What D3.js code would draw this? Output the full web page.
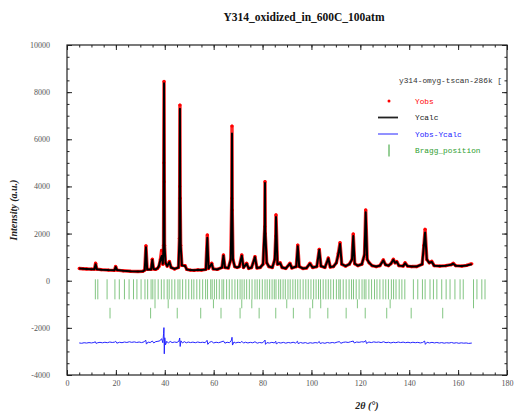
<!DOCTYPE html>
<html>
<head>
<meta charset="utf-8">
<script src="https://cdn.jsdelivr.net/npm/d3@7"></script>
<style>
  body { margin: 0; background: #fff; }
  .tick text { font-family: "Liberation Serif", serif; font-size: 8px; fill: #555; }
  .tick line { stroke: #222; }
</style>
</head>
<body>
<svg id="chart" width="514" height="414"></svg>
<script>
const title = "Y314_oxidized_in_600C_100atm";
const fileName = "y314-omyg-tscan-286k [";
const legendLabels = ["Yobs", "Ycalc", "Yobs-Ycalc", "Bragg_position"];
const xTicks = [0, 20, 40, 60, 80, 100, 120, 140, 160, 180];
const yTicks = [-4000, -2000, 0, 2000, 4000, 6000, 8000, 10000];

// profile points (2theta, observed, calculated)
const twoTheta = [
  5.0, 6.5, 8.0, 10.0, 11.2, 11.7, 12.2, 14.0, 17.0, 19.4,
  19.9, 20.5, 23.0, 26.0, 29.0, 31.0, 31.8, 32.3, 32.8, 34.4,
  34.9, 35.4, 36.2, 37.0, 37.6, 38.2, 38.7, 39.2, 39.5, 39.6,
  39.7, 39.8, 39.9, 40.3, 41.0, 41.9, 42.6, 44.0, 45.6, 46.0,
  46.1, 46.2, 46.3, 46.5, 47.0, 48.3, 49.0, 50.5, 52.0, 53.5,
  55.0, 56.8, 57.4, 57.9, 59.2, 59.8, 61.5, 63.4, 64.0, 64.6,
  66.0, 67.0, 67.4, 67.5, 67.6, 67.9, 68.6, 69.6, 70.5, 71.5,
  72.2, 73.5, 74.3, 75.5, 76.9, 77.7, 79.0, 80.2, 80.9, 81.0,
  81.1, 81.7, 82.6, 84.0, 85.0, 85.4, 85.5, 86.1, 87.2, 88.0,
  89.5, 91.2, 92.0, 93.8, 94.4, 95.0, 96.5, 98.0, 99.4, 100.5,
  102.2, 103.2, 103.9, 105.5, 106.9, 107.7, 109.0, 110.2, 111.0, 111.7,
  112.4, 114.0, 115.5, 116.6, 117.1, 117.7, 119.0, 120.6, 121.7, 122.2,
  122.8, 123.6, 124.8, 126.5, 128.0, 129.4, 130.3, 131.5, 132.5, 133.5,
  134.2, 134.9, 135.8, 137.5, 138.3, 139.3, 141.0, 143.0, 145.3, 146.0,
  146.5, 147.2, 148.2, 149.2, 150.2, 152.5, 155.0, 157.2, 158.0, 159.0,
  161.5, 163.5, 165.6
];
const yObs = [
  520, 510, 500, 490, 490, 740, 490, 470, 450, 440,
  600, 450, 420, 400, 390, 400, 450, 1480, 480, 480,
  910, 500, 480, 520, 600, 900, 1280, 700, 1500, 5000,
  8450, 4200, 1500, 750, 620, 810, 560, 500, 560, 1800,
  4000, 7450, 3500, 1500, 650, 640, 480, 450, 440, 460,
  450, 480, 1940, 520, 740, 500, 480, 560, 1090, 560,
  540, 900, 3500, 6560, 3000, 900, 600, 560, 600, 1090,
  560, 740, 520, 560, 1020, 540, 560, 700, 2300, 4200,
  2000, 760, 600, 560, 900, 1900, 2790, 700, 760, 560,
  520, 740, 540, 600, 1510, 600, 520, 540, 740, 560,
  600, 1330, 620, 560, 960, 580, 600, 760, 1160, 1610,
  700, 620, 700, 900, 1980, 720, 640, 700, 1100, 3000,
  900, 760, 640, 600, 640, 880, 680, 640, 720, 910,
  760, 810, 640, 620, 760, 620, 600, 600, 700, 1500,
  2180, 900, 760, 820, 640, 620, 640, 680, 740, 640,
  620, 650, 720
];
const yCalc = [
  520, 510, 500, 490, 490, 700, 490, 470, 450, 440,
  580, 450, 420, 400, 390, 400, 450, 1420, 480, 480,
  880, 500, 480, 520, 620, 880, 1050, 720, 1500, 5000,
  8380, 4300, 1500, 760, 620, 790, 560, 500, 560, 1800,
  4100, 7300, 3600, 1500, 650, 620, 480, 450, 440, 460,
  450, 480, 1820, 520, 720, 500, 480, 560, 1060, 560,
  540, 900, 3600, 6250, 3100, 900, 600, 560, 600, 1060,
  560, 720, 520, 560, 1000, 540, 560, 700, 2400, 4150,
  2100, 760, 600, 560, 900, 1950, 2700, 700, 740, 560,
  520, 720, 540, 600, 1460, 600, 520, 540, 720, 560,
  600, 1300, 620, 560, 940, 580, 600, 760, 1120, 1560,
  700, 620, 700, 900, 1900, 720, 640, 700, 1100, 2900,
  900, 760, 640, 600, 640, 860, 680, 640, 720, 890,
  760, 800, 640, 620, 740, 620, 600, 600, 700, 1500,
  2050, 900, 760, 800, 640, 620, 640, 680, 720, 640,
  620, 650, 700
];

// difference curve (2theta, Yobs-Ycalc shifted)
const diffCurve = [
  [5,-2640],[6,-2655],[7,-2630],[8,-2645],[9,-2625],[10,-2640],[11,-2620],[11.6,-2590],[11.9,-2660],[12.6,-2630],
  [13.5,-2615],[14.5,-2635],[15.5,-2610],[16.5,-2630],[17.5,-2600],[18.5,-2620],[19.5,-2605],[19.9,-2570],[20.4,-2650],[21.5,-2610],
  [22.5,-2630],[23.5,-2600],[24.5,-2620],[25.5,-2590],[26.5,-2615],[27.5,-2595],[28.5,-2620],[29.5,-2600],[30.5,-2625],[31.5,-2595],
  [32.2,-2520],[32.5,-2690],[33.2,-2600],[34,-2625],[34.9,-2560],[35.5,-2640],[36.3,-2585],[37.2,-2570],[38,-2550],[38.7,-2460],
  [39.2,-2630],[39.5,-2250],[39.65,-1990],[39.8,-3100],[40.0,-2420],[40.3,-2720],[40.8,-2570],[41.5,-2645],[42.2,-2575],[43,-2625],
  [44,-2600],[45,-2620],[45.8,-2560],[46.1,-2430],[46.3,-2790],[46.6,-2550],[47.2,-2640],[48,-2585],[48.8,-2635],[49.6,-2600],
  [50.5,-2625],[51.5,-2605],[52.5,-2630],[53.5,-2600],[54.5,-2625],[55.5,-2610],[56.5,-2630],[57.3,-2530],[57.6,-2700],[58.3,-2610],
  [59.2,-2580],[60,-2640],[61,-2610],[62,-2630],[63,-2600],[64,-2560],[64.6,-2650],[65.5,-2610],[66.5,-2630],[67.3,-2520],
  [67.5,-2400],[67.7,-2730],[68.3,-2600],[69,-2640],[70,-2610],[71,-2630],[71.5,-2570],[72.2,-2645],[73,-2610],[74,-2640],
  [75,-2615],[76,-2635],[76.9,-2590],[77.8,-2650],[78.8,-2620],[79.8,-2640],[80.8,-2560],[81.0,-2520],[81.2,-2700],[81.8,-2625],
  [82.8,-2645],[83.8,-2615],[84.8,-2640],[85.4,-2570],[85.6,-2680],[86.5,-2620],[87.5,-2645],[88.5,-2615],[89.5,-2650],[90.5,-2620],
  [91.5,-2640],[92.5,-2610],[93.5,-2645],[94.3,-2570],[94.6,-2670],[95.5,-2620],[96.5,-2650],[97.5,-2625],[98.5,-2660],[99.5,-2630],
  [100.5,-2650],[101.5,-2625],[102.5,-2640],[103.2,-2580],[103.6,-2665],[104.5,-2630],[105.5,-2655],[106.5,-2620],[107.5,-2645],[108.5,-2620],
  [109.5,-2640],[110.5,-2605],[111.5,-2585],[112,-2655],[113,-2615],[114,-2600],[115,-2620],[116,-2590],[117.1,-2560],[117.5,-2640],
  [118.5,-2600],[119.5,-2615],[120.5,-2590],[121.5,-2600],[122.2,-2540],[122.5,-2660],[123.5,-2600],[124.5,-2625],[125.5,-2595],[126.5,-2615],
  [127.5,-2600],[128.5,-2625],[129.5,-2590],[130.5,-2630],[131.5,-2610],[132.5,-2640],[133.5,-2610],[134.5,-2630],[135.5,-2600],[136.5,-2625],
  [137.5,-2605],[138.5,-2630],[139.5,-2610],[140.5,-2635],[141.5,-2610],[142.5,-2630],[143.5,-2615],[144.5,-2640],[145.5,-2620],[146.3,-2560],
  [146.6,-2700],[147.3,-2610],[148.3,-2640],[149.3,-2615],[150.3,-2640],[151.3,-2620],[152.3,-2645],[153.3,-2625],[154.3,-2650],[155.3,-2630],
  [156.3,-2645],[157.3,-2620],[158.3,-2650],[159.3,-2630],[160.3,-2655],[161.3,-2635],[162.3,-2650],[163.3,-2640],[164.3,-2660],[165.6,-2645]
];

// Bragg reflection positions, one list per phase
const braggPhase1 = [
  11.6, 12.6, 16.4, 19.6, 21.4, 23.5, 25.4, 27.2, 28.6, 30.3, 31.9, 33.0, 34.4, 35.1, 36.0, 37.3, 38.6, 39.7,
  41.0, 41.8, 42.9, 44.1, 45.4, 46.2, 47.3, 48.6, 49.8, 51.0, 51.9, 53.1, 54.3, 55.5, 56.7, 57.5, 58.8, 59.4,
  60.3, 61.2, 62.3, 63.4, 64.1, 65.3, 66.4, 67.5, 68.7, 69.8, 70.8, 71.6, 72.5, 73.5, 74.6, 75.7, 76.9, 77.8,
  78.8, 79.9, 81.0, 81.9, 82.9, 83.9, 84.8, 85.5, 86.6, 87.4, 88.4, 89.3, 90.4, 91.3, 92.4, 93.4, 94.4, 95.4,
  96.6, 97.7, 98.7, 99.8, 100.9, 101.9, 102.9, 103.7, 104.8, 105.9, 106.9, 107.9, 109.0, 110.2, 111.2, 111.8,
  113.0, 114.2, 115.4, 116.4, 117.2, 118.3, 119.5, 120.7, 121.6, 122.3, 123.5, 124.6, 125.8, 126.8, 128.0,
  129.3, 130.4, 131.5, 132.7, 133.6, 134.6, 135.9, 137.0, 138.2, 141.7, 143.5, 145.4, 146.5, 148.5, 149.9,
  151.3, 153.3, 155.1, 156.7, 158.7, 160.8, 162.1, 166.3, 167.7, 169.7, 171.0
];
const braggPhase2 = [36.0, 41.4, 59.9, 71.5, 75.6, 89.9, 100.5, 103.8, 118.8, 132.2, 166.3];
const braggPhase3 = [17.6, 34.2, 45.1, 54.7, 63.0, 70.8, 78.6, 85.4, 92.6, 99.4, 106.7, 114.2, 122.0, 130.8, 140.8, 153.7];

const svg = d3.select("#chart");
const margin = { left: 67, right: 7, top: 45, bottom: 39 };
const width = 514, height = 414;
const x = d3.scaleLinear().domain([0, 180]).range([margin.left, width - margin.right]);
const y = d3.scaleLinear().domain([-4000, 10000]).range([height - margin.bottom, margin.top]);

const red = "#f00", blue = "#2424ff", green = "#2f9e2f";

svg.append("defs").append("clipPath").attr("id", "plot")
  .append("rect")
  .attr("x", x(0)).attr("y", y(10000))
  .attr("width", x(180) - x(0)).attr("height", y(-4000) - y(10000));

const plot = svg.append("g").attr("clip-path", "url(#plot)");

/* ------- BRAGG TICKS -------*/
const rows = [
  [braggPhase1, 60, -790],
  [braggPhase2, -790, -1170],
  [braggPhase3, -1150, -1600],
];
rows.forEach(([positions, top, bottom]) => {
  plot.append("g").selectAll("line")
    .data(positions)
    .enter().append("line")
    .attr("x1", (d) => x(d)).attr("x2", (d) => x(d))
    .attr("y1", y(top)).attr("y2", y(bottom))
    .attr("stroke", green).attr("stroke-width", 1)
    .attr("stroke-opacity", 0.6);
});

/* ------- OBSERVED / CALCULATED -------*/
const pts = twoTheta.map((t, i) => ({ t: t, obs: yObs[i], calc: yCalc[i] }));

plot.append("path")
  .datum(pts)
  .attr("fill", "none").attr("stroke", red).attr("stroke-width", 3.4)
  .attr("stroke-linejoin", "round").attr("stroke-opacity", 0.85)
  .attr("d", d3.line().x((d) => x(d.t)).y((d) => y(d.obs)));

plot.append("g").selectAll("circle")
  .data(pts)
  .enter().append("circle")
  .attr("cx", (d) => x(d.t)).attr("cy", (d) => y(d.obs))
  .attr("r", 1.6).attr("fill", red);

plot.append("path")
  .datum(pts)
  .attr("fill", "none").attr("stroke", "#000").attr("stroke-width", 2)
  .attr("stroke-linejoin", "round")
  .attr("d", d3.line().x((d) => x(d.t)).y((d) => y(d.calc)));

/* ------- DIFFERENCE -------*/
plot.append("path")
  .datum(diffCurve)
  .attr("fill", "none").attr("stroke", blue).attr("stroke-width", 1)
  .attr("d", d3.line().x((d) => x(d[0])).y((d) => y(d[1])));

/* ------- AXES -------*/
const major = 5, minor = 2.5;
const noLabel = () => "";

svg.append("g").attr("transform", `translate(0,${y(-4000)})`)
  .call(d3.axisBottom(x).tickValues(xTicks).tickSize(-major).tickPadding(5).tickFormat(d3.format("d")))
  .call((g) => g.select(".domain").remove());
svg.append("g").attr("transform", `translate(0,${y(-4000)})`)
  .call(d3.axisBottom(x).tickValues(d3.range(0, 181, 5)).tickSize(-minor).tickFormat(noLabel))
  .call((g) => g.select(".domain").remove());
svg.append("g").attr("transform", `translate(0,${y(10000)})`)
  .call(d3.axisTop(x).tickValues(xTicks).tickSize(-major).tickFormat(noLabel))
  .call((g) => g.select(".domain").remove());
svg.append("g").attr("transform", `translate(0,${y(10000)})`)
  .call(d3.axisTop(x).tickValues(d3.range(0, 181, 5)).tickSize(-minor).tickFormat(noLabel))
  .call((g) => g.select(".domain").remove());

svg.append("g").attr("transform", `translate(${x(0)},0)`)
  .call(d3.axisLeft(y).tickValues(yTicks).tickSize(-major).tickPadding(17).tickFormat((d) => String(d)))
  .call((g) => g.select(".domain").remove());
svg.append("g").attr("transform", `translate(${x(0)},0)`)
  .call(d3.axisLeft(y).tickValues(d3.range(-4000, 10001, 500)).tickSize(-minor).tickFormat(noLabel))
  .call((g) => g.select(".domain").remove());
svg.append("g").attr("transform", `translate(${x(180)},0)`)
  .call(d3.axisRight(y).tickValues(yTicks).tickSize(-major).tickFormat(noLabel))
  .call((g) => g.select(".domain").remove());
svg.append("g").attr("transform", `translate(${x(180)},0)`)
  .call(d3.axisRight(y).tickValues(d3.range(-4000, 10001, 500)).tickSize(-minor).tickFormat(noLabel))
  .call((g) => g.select(".domain").remove());

svg.append("rect")
  .attr("x", x(0)).attr("y", y(10000))
  .attr("width", x(180) - x(0)).attr("height", y(-4000) - y(10000))
  .attr("fill", "none").attr("stroke", "#222").attr("stroke-width", 1.2);

/* ------- TEXT -------*/
svg.append("text")
  .attr("x", 304).attr("y", 21)
  .attr("text-anchor", "middle")
  .style("font-family", "Liberation Serif, serif").style("font-weight", "bold")
  .style("font-size", "11.5px").attr("fill", "#111")
  .text(title);

svg.append("text")
  .attr("transform", "translate(17,210) rotate(-90)")
  .attr("text-anchor", "middle")
  .style("font-family", "Liberation Serif, serif").style("font-weight", "bold")
  .style("font-style", "italic").style("font-size", "10px").attr("fill", "#222")
  .text("Intensity (a.u.)");

svg.append("text")
  .attr("x", 367).attr("y", 409)
  .attr("text-anchor", "middle")
  .style("font-family", "Liberation Serif, serif").style("font-weight", "bold")
  .style("font-style", "italic").style("font-size", "10px").attr("fill", "#222")
  .text("2\u03b8 (\u00b0)");

/* ------- LEGEND -------*/
const legend = svg.append("g")
  .style("font-family", "Liberation Mono, monospace").style("font-size", "7.8px");

legend.append("text").attr("x", 399).attr("y", 83).attr("fill", "#333").text(fileName);

const legendColors = [red, "#222", blue, green];
legendLabels.forEach((label, i) => {
  const ly = 101 + i * 16.5;
  legend.append("text").attr("x", 415).attr("y", ly + 2.5)
    .attr("fill", legendColors[i]).text(label);
  if (i === 0) {
    legend.append("circle").attr("cx", 389).attr("cy", ly).attr("r", 1.5).attr("fill", red);
  } else if (i === 3) {
    legend.append("line").attr("x1", 389).attr("x2", 389).attr("y1", ly - 6).attr("y2", ly + 6)
      .attr("stroke", green).attr("stroke-width", 1);
  } else {
    legend.append("line").attr("x1", 378).attr("x2", 398).attr("y1", ly).attr("y2", ly)
      .attr("stroke", legendColors[i]).attr("stroke-width", i === 1 ? 1.8 : 1);
  }
});
</script>
</body>
</html>
